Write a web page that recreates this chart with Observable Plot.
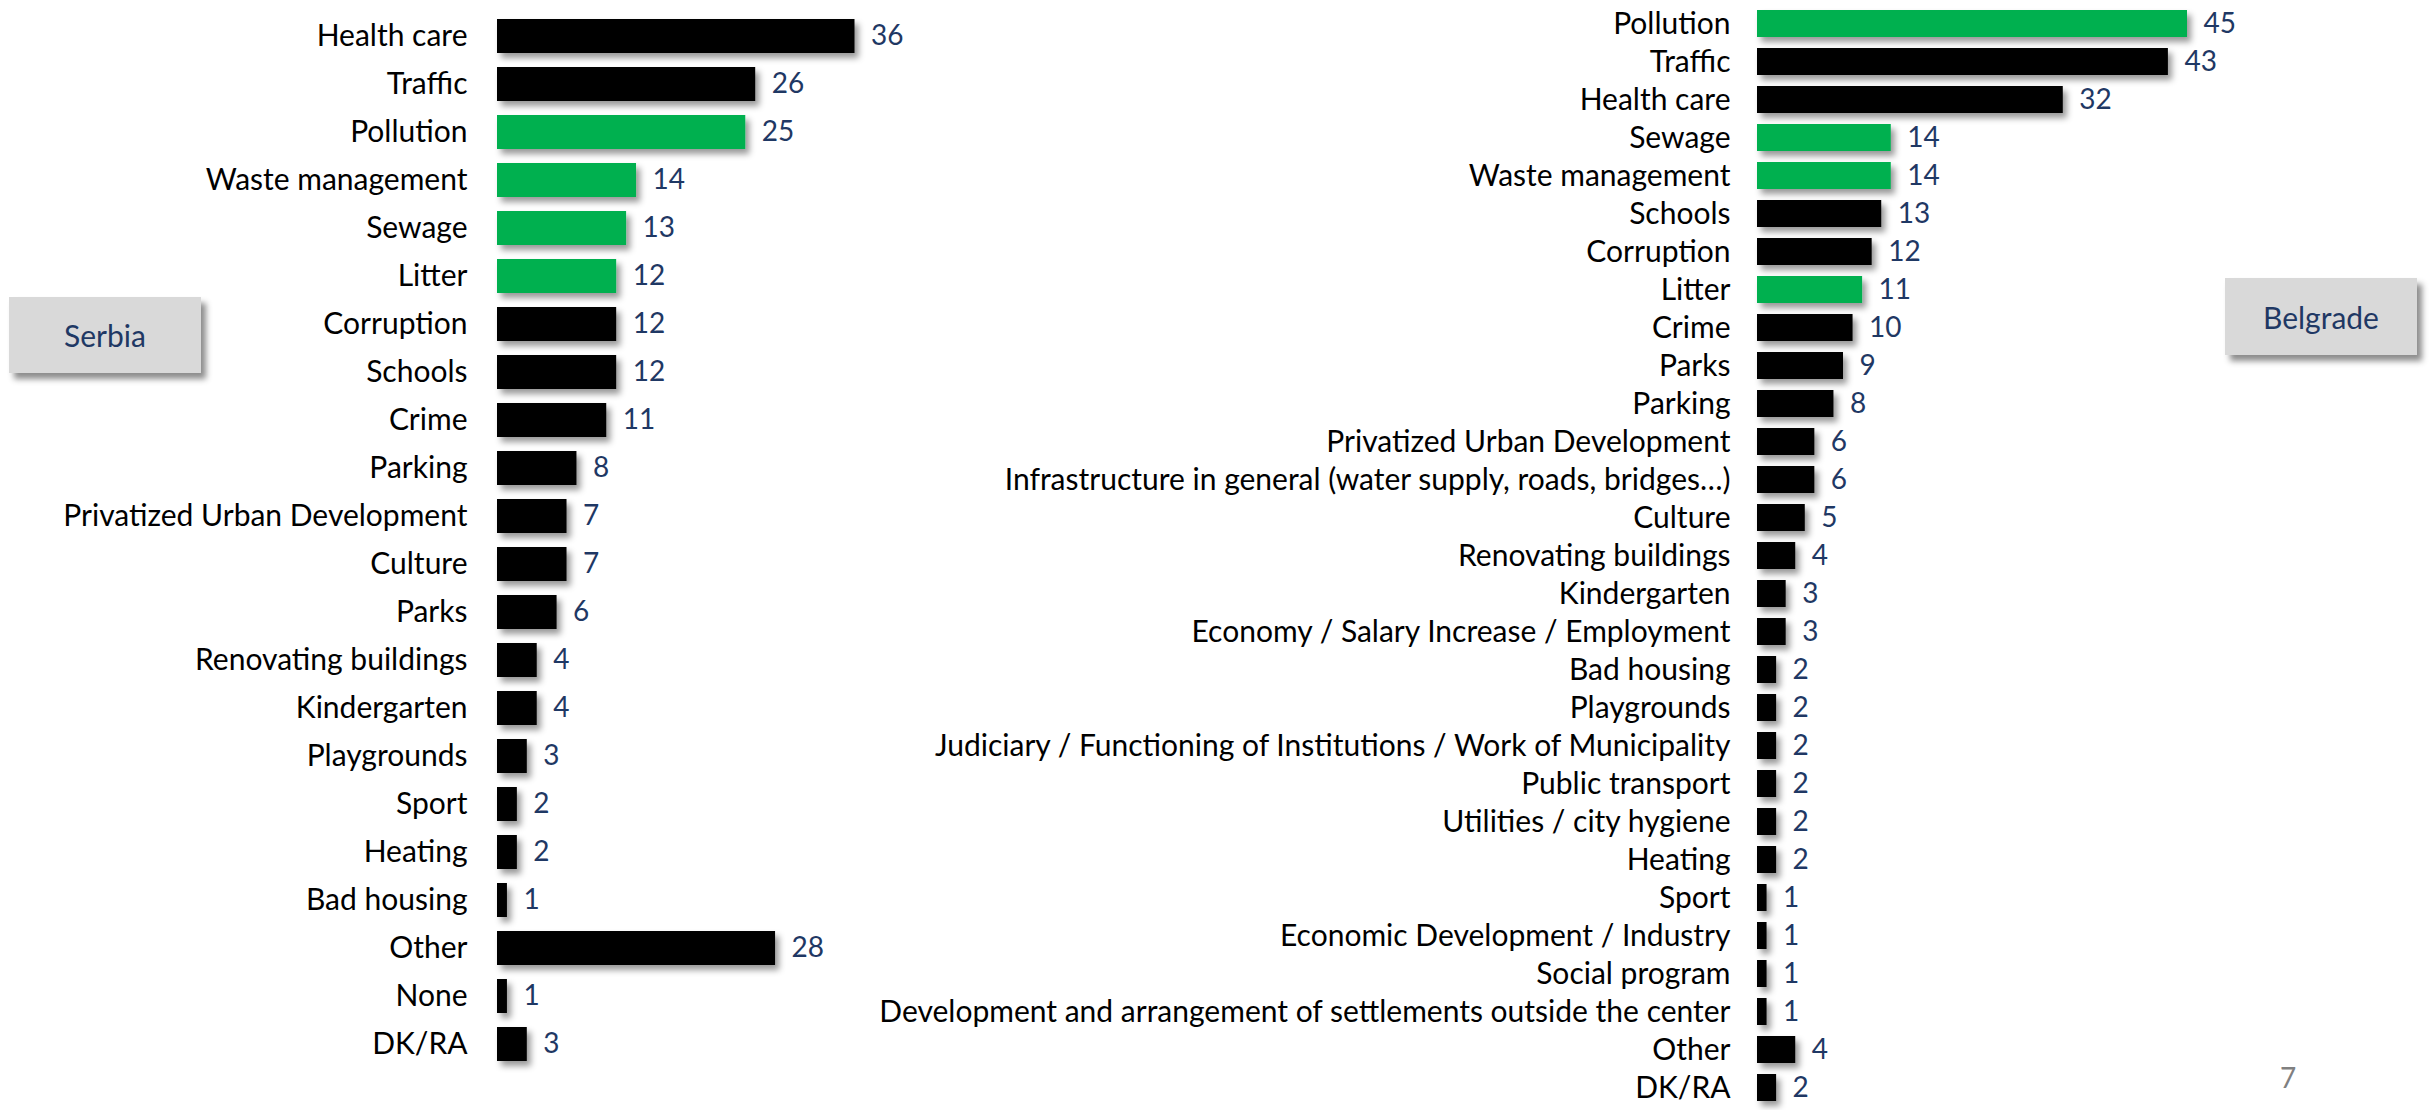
<!DOCTYPE html>
<html>
<head>
<meta charset="utf-8">
<script src="https://cdn.jsdelivr.net/npm/d3@7"></script>
<script src="https://cdn.jsdelivr.net/npm/@observablehq/plot@0.6"></script>
<style>
  html, body { margin: 0; padding: 0; background: #ffffff; }
  #page { position: relative; width: 2433px; height: 1110px; overflow: hidden; background: #ffffff; font-family: Lato, "Liberation Sans", sans-serif; }
  .panel { position: absolute; top: 0; }
  .box { position: absolute; background: #D9D9D9; color: #1F3864; font-size: 30px; display: flex; align-items: center; justify-content: center; box-shadow: 5px 6px 6px rgba(0,0,0,0.45); }
  #pagenum { position: absolute; left: 2280px; top: 1060px; color: #808080; font-size: 28px; }
</style>
</head>
<body>
<div id="page">
  <div id="left" class="panel" style="left:0px"></div>
  <div id="right" class="panel" style="left:860px"></div>
  <div class="box" style="left:9px; top:297px; width:192px; height:76px;">Serbia</div>
  <div class="box" style="left:2225px; top:278px; width:192px; height:77px;">Belgrade</div>
  <div id="pagenum">7</div>
</div>
<script>
const serbiaCategories = ["Health care","Traffic","Pollution","Waste management","Sewage","Litter","Corruption","Schools","Crime","Parking","Privatized Urban Development","Culture","Parks","Renovating buildings","Kindergarten","Playgrounds","Sport","Heating","Bad housing","Other","None","DK/RA"];
const serbiaValues = [36,26,25,14,13,12,12,12,11,8,7,7,6,4,4,3,2,2,1,28,1,3];

const belgradeCategories = ["Pollution","Traffic","Health care","Sewage","Waste management","Schools","Corruption","Litter","Crime","Parks","Parking","Privatized Urban Development","Infrastructure in general (water supply, roads, bridges…)","Culture","Renovating buildings","Kindergarten","Economy / Salary Increase / Employment","Bad housing","Playgrounds","Judiciary / Functioning of Institutions / Work of Municipality","Public transport","Utilities / city hygiene","Heating","Sport","Economic Development / Industry","Social program","Development and arrangement of settlements outside the center","Other","DK/RA"];
const belgradeValues = [45,43,32,14,14,13,12,11,10,9,8,6,6,5,4,3,3,2,2,2,2,2,2,1,1,1,1,4,2];

const environmentalCategories = ["Pollution","Waste management","Sewage","Litter"];

const GREEN = "#00B050";
const BLACK = "#000000";
const NAVY = "#1F3864";

function makeChart(categories, values, opts, shadowId) {
  const data = categories.map((c, i) => ({category: c, value: values[i], group: environmentalCategories.includes(c) ? "env" : "other"}));
  const chart = Plot.plot({
    width: opts.width,
    height: 1110,
    marginLeft: opts.marginLeft,
    marginRight: opts.width - opts.marginLeft - opts.barSpan,
    marginTop: opts.marginTop,
    marginBottom: opts.marginBottom,
    style: {background: "transparent", overflow: "visible", fontFamily: "Lato, 'Liberation Sans', sans-serif", color: "black"},
    x: {axis: null, domain: [0, d3.max(values)]},
    y: {axis: null, domain: categories, paddingInner: 0.3, paddingOuter: 0.15},
    color: {domain: ["env", "other"], range: [GREEN, BLACK]},
    marks: [
      Plot.barX(data, {x: "value", y: "category", fill: "group"}),
      Plot.text(data, {y: "category", text: "category", frameAnchor: "left", textAnchor: "end", dx: -opts.labelGap, fontSize: 30, fill: "black"}),
      Plot.text(data, {x: "value", y: "category", text: d => String(d.value), textAnchor: "start", dx: 16, fontSize: 28, fill: NAVY})
    ]
  });
  const svg = d3.select(chart);
  const defs = svg.insert("defs", ":first-child");
  const f = defs.append("filter").attr("id", shadowId).attr("x", "-20%").attr("y", "-20%").attr("width", "150%").attr("height", "160%");
  f.append("feDropShadow").attr("dx", 4).attr("dy", 5).attr("stdDeviation", 3).attr("flood-color", "#000").attr("flood-opacity", 0.4);
  svg.selectAll("g[aria-label='bar']").attr("filter", `url(#${shadowId})`);
  return chart;
}

document.getElementById("left").appendChild(makeChart(serbiaCategories, serbiaValues, {
  width: 910, marginLeft: 497, barSpan: 357.5, marginTop: 9.9, marginBottom: 39.7, labelGap: 30
}, "shadowL"));

document.getElementById("right").appendChild(makeChart(belgradeCategories, belgradeValues, {
  width: 1387, marginLeft: 897, barSpan: 430, marginTop: 3, marginBottom: 2.1, labelGap: 27
}, "shadowR"));
</script>
</body>
</html>
